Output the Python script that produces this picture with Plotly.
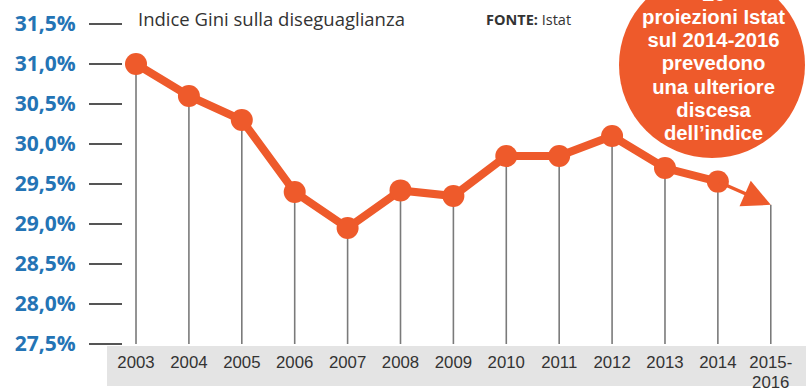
import plotly.graph_objects as go

# ---- data ----
years = ["2003", "2004", "2005", "2006", "2007", "2008", "2009", "2010",
         "2011", "2012", "2013", "2014"]
gini = [31.0, 30.6, 30.3, 29.4, 28.95, 29.42, 29.35, 29.85, 29.85, 30.1, 29.7, 29.53]
forecast_label = "2015-<br>2016"
forecast_value = 29.24
y_tick_vals = [27.5, 28.0, 28.5, 29.0, 29.5, 30.0, 30.5, 31.0, 31.5]
y_tick_text = ["27,5%", "28,0%", "28,5%", "29,0%", "29,5%", "30,0%", "30,5%", "31,0%", "31,5%"]
title_text = "Indice Gini sulla diseguaglianza"
source_text = "<b>FONTE:</b> Istat"
bubble_lines = ["Le", "proiezioni Istat", "sul 2014-2016", "prevedono",
                "una ulteriore", "discesa", "dell\u2019indice"]

W, H = 806, 392
ML, MB = 123, 48
PW, PH = W - ML, H - MB
ORANGE = "#ee5a2b"
BLUE = "#2474b5"


def px_x(px):
    return (px - ML) / PW


def px_y(py):
    return (PH - py) / PH


def sized(label, size):
    return "<br>".join('<span style="font-size:%spx">%s</span>' % (size, part)
                       for part in label.split("<br>"))


n = len(years)
all_x = list(range(n + 1))
all_labels = [sized(l, 16.8) for l in years + [forecast_label]]
all_vals = gini + [forecast_value]

fig = go.Figure()

# vertical drop lines
vx, vy = [], []
for i, v in enumerate(all_vals):
    vx += [i, i, None]
    vy += [v, 27.5, None]
fig.add_trace(go.Scatter(x=vx, y=vy, mode="lines",
                         line=dict(color="#7a7a7a", width=1.6),
                         hoverinfo="skip", showlegend=False))

# main line
fig.add_trace(go.Scatter(x=list(range(n)), y=gini, mode="lines+markers",
                         line=dict(color=ORANGE, width=8),
                         marker=dict(color=ORANGE, size=22),
                         showlegend=False))

# forecast arrow
fig.add_annotation(x=n, y=forecast_value, ax=n - 1, ay=gini[-1],
                   xref="x", yref="y", axref="x", ayref="y",
                   showarrow=True, arrowhead=2, arrowsize=1.6, arrowwidth=3.5,
                   arrowcolor=ORANGE, text="", standoff=0)

shapes = []
# grey band under x labels
shapes.append(dict(type="rect", xref="paper", yref="paper",
                   x0=px_x(107), x1=px_x(806), y0=px_y(346), y1=px_y(386),
                   fillcolor="#e4e4e4", line=dict(width=0), layer="below"))
# orange bubble
shapes.append(dict(type="circle", xref="paper", yref="paper",
                   x0=px_x(619), x1=px_x(805), y0=px_y(158), y1=px_y(-28),
                   fillcolor=ORANGE, line=dict(width=0), layer="above"))
fig.update_layout(shapes=shapes)

# bubble text: one block, tight leading (line height = 1.3 * base size)
bubble_text = "<br>".join(
    '<span style="font-size:20.3px"><b>' + t + "</b></span>" for t in bubble_lines)
fig.add_annotation(x=px_x(713), y=px_y(145), xref="paper", yref="paper",
                   text=bubble_text, showarrow=False, align="center",
                   font=dict(family="Liberation Sans", size=17.8, color="white"),
                   xanchor="center", yanchor="bottom", borderpad=0)

# title and source
fig.add_annotation(x=px_x(136), y=px_y(19), xref="paper", yref="paper",
                   text=title_text, showarrow=False, xanchor="left", yanchor="middle",
                   font=dict(family="Open Sans", size=18.5, color="#333333"))
fig.add_annotation(x=px_x(484), y=px_y(20), xref="paper", yref="paper",
                   text=source_text, showarrow=False, xanchor="left", yanchor="middle",
                   font=dict(family="Open Sans", size=14.5, color="#333333"))

fig.update_xaxes(range=[-0.246, 12.666], tickvals=all_x, ticktext=all_labels,
                 showgrid=False, zeroline=False, showline=False, ticks="",
                 ticklabelstandoff=8, automargin=False,
                 tickfont=dict(family="Liberation Sans", size=15, color="#333333"))
fig.update_yaxes(range=[27.5, 27.5 + PH / 80], tickvals=y_tick_vals, ticktext=y_tick_text,
                 showgrid=False, zeroline=False, showline=False,
                 ticks="outside", ticklen=33, tickwidth=1.6, tickcolor="#555555",
                 ticklabelstandoff=9, automargin=False,
                 tickfont=dict(family="Open Sans", size=21, color=BLUE, weight="bold"))

fig.update_layout(width=W, height=H, margin=dict(l=ML, r=0, t=0, b=MB),
                  paper_bgcolor="white", plot_bgcolor="rgba(0,0,0,0)")

fig.write_html("out.html")
